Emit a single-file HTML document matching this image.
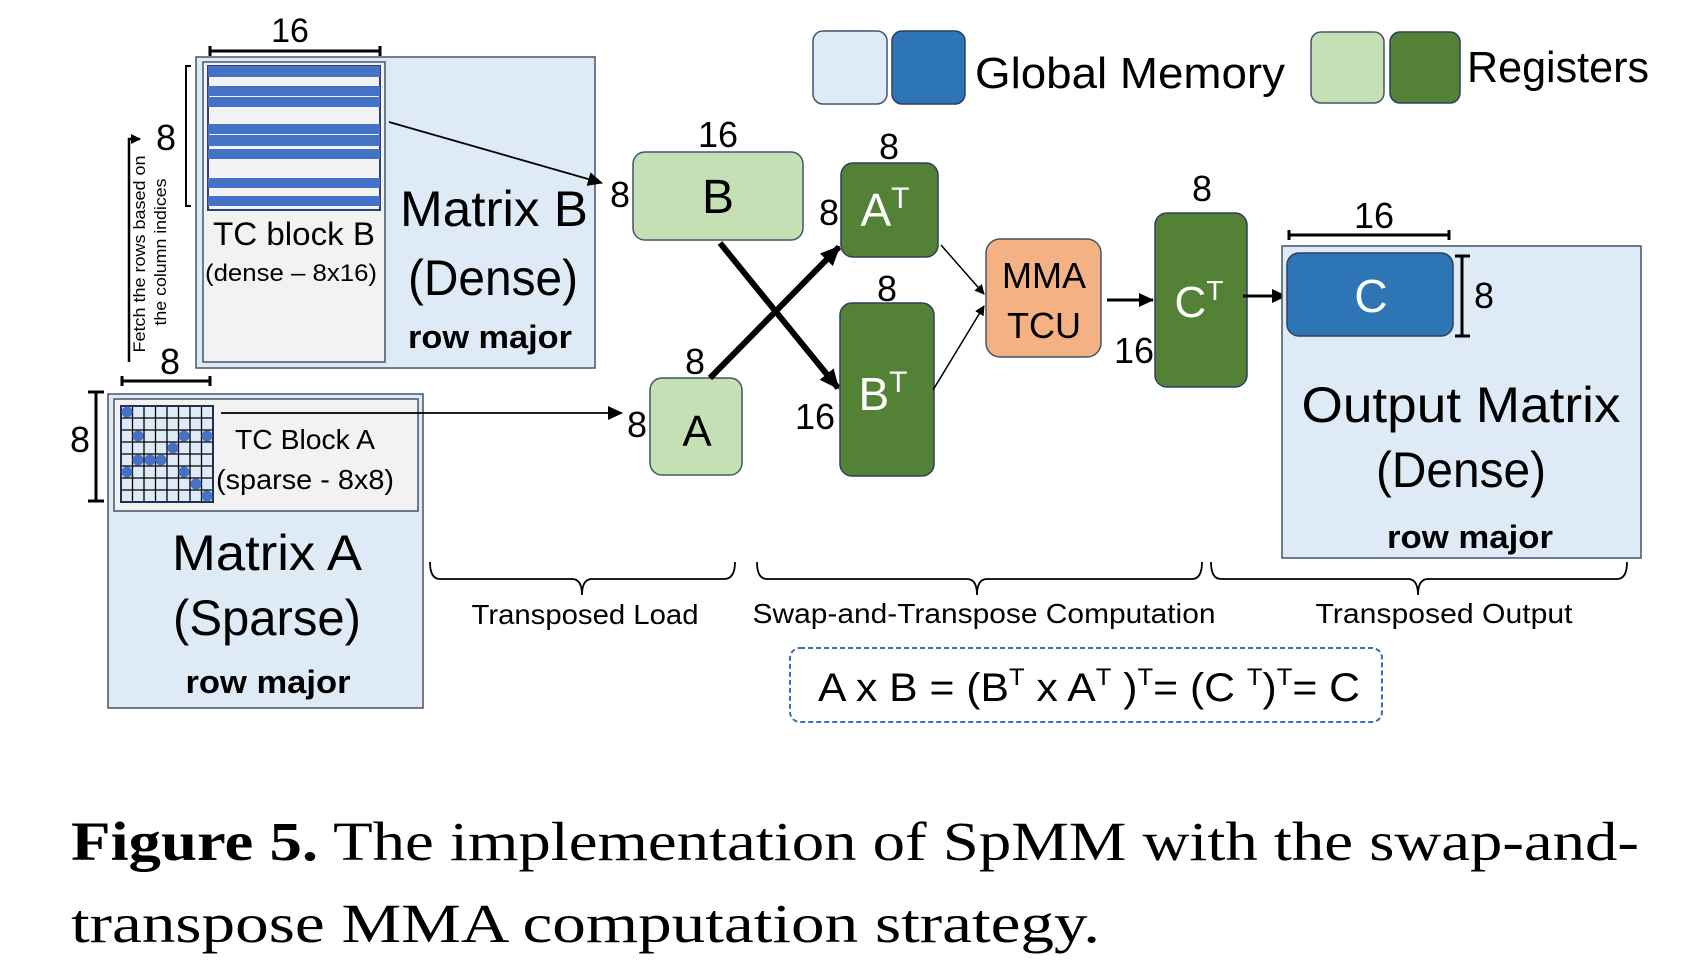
<!DOCTYPE html>
<html><head><meta charset="utf-8"><style>
html,body{margin:0;padding:0;background:#fff;}
svg{display:block;}
text{font-family:"Liberation Sans",sans-serif;fill:#000;}
</style></head><body>
<svg width="1708" height="978" viewBox="0 0 1708 978" xmlns="http://www.w3.org/2000/svg">
<defs>
<marker id="ah" markerWidth="10" markerHeight="10" refX="9" refY="5" orient="auto" markerUnits="userSpaceOnUse"><path d="M0,0 L10,5 L0,10 z" fill="#000"/></marker>
<marker id="ahb" markerWidth="22" markerHeight="22" refX="18" refY="11" orient="auto" markerUnits="userSpaceOnUse"><path d="M0,2 L20,11 L0,20 z" fill="#000"/></marker>
<marker id="ahm" markerWidth="16" markerHeight="16" refX="14" refY="8" orient="auto" markerUnits="userSpaceOnUse"><path d="M0,1 L15,8 L0,15 z" fill="#000"/></marker>
</defs>

<!-- Legend -->
<rect x="813" y="31" width="74" height="73" rx="10" fill="#deebf7" stroke="#44546a" stroke-width="1.5"/>
<rect x="892" y="31" width="73" height="73" rx="10" fill="#2e75b6" stroke="#2f3f5f" stroke-width="1.5"/>
<text x="975" y="88" font-size="44" textLength="310" lengthAdjust="spacingAndGlyphs">Global Memory</text>
<rect x="1311" y="32" width="73" height="71" rx="10" fill="#c5e0b4" stroke="#44546a" stroke-width="1.5"/>
<rect x="1390" y="32" width="70" height="71" rx="10" fill="#538135" stroke="#2f3f5f" stroke-width="1.5"/>
<text x="1467" y="82" font-size="44" textLength="182" lengthAdjust="spacingAndGlyphs">Registers</text>

<!-- Matrix B -->
<rect x="196" y="57" width="399" height="311" fill="#deebf7" stroke="#44546a" stroke-width="1.5"/>
<rect x="203" y="62" width="182" height="300" fill="#f2f2f2" stroke="#44546a" stroke-width="1.5"/>
<rect x="208" y="66" width="172" height="144" fill="#f2f2f2" stroke="#2f3f6f" stroke-width="2"/>
<g fill="#4472c4">
<rect x="208" y="66" width="172" height="11"/>
<rect x="208" y="86" width="172" height="10"/>
<rect x="208" y="97" width="172" height="10"/>
<rect x="208" y="124" width="172" height="10"/>
<rect x="208" y="135" width="172" height="11"/>
<rect x="208" y="149" width="172" height="10"/>
<rect x="208" y="178" width="172" height="10"/>
<rect x="208" y="196" width="172" height="10"/>
</g>
<text x="294" y="245" font-size="32" text-anchor="middle" textLength="162" lengthAdjust="spacingAndGlyphs">TC block B</text>
<text x="291" y="281" font-size="24" text-anchor="middle" textLength="172" lengthAdjust="spacingAndGlyphs">(dense – 8x16)</text>
<text x="494" y="226" font-size="50" text-anchor="middle" textLength="188" lengthAdjust="spacingAndGlyphs">Matrix B</text>
<text x="493" y="295" font-size="50" text-anchor="middle" textLength="170" lengthAdjust="spacingAndGlyphs">(Dense)</text>
<text x="490" y="348" font-size="32" font-weight="bold" text-anchor="middle" textLength="164" lengthAdjust="spacingAndGlyphs">row major</text>
<!-- 16 bracket -->
<path d="M210,46 V56 M210,51 H380 M380,46 V56" stroke="#000" stroke-width="3" fill="none"/>
<text x="290" y="42" font-size="34" text-anchor="middle">16</text>
<!-- 8 bracket -->
<path d="M191,66 H186 V206 H191" stroke="#000" stroke-width="2" fill="none"/>
<text x="166" y="150" font-size="36" text-anchor="middle">8</text>
<!-- fetch arrow -->
<path d="M129,362 V139 H140" stroke="#000" stroke-width="2.5" fill="none" marker-end="url(#ah)"/>
<text transform="translate(145,254) rotate(-90)" font-size="17" text-anchor="middle" textLength="197" lengthAdjust="spacingAndGlyphs">Fetch the rows  based on</text>
<text transform="translate(166,252) rotate(-90)" font-size="17" text-anchor="middle" textLength="147" lengthAdjust="spacingAndGlyphs">the column indices</text>

<!-- Matrix A -->
<rect x="108" y="394" width="315" height="314" fill="#deebf7" stroke="#44546a" stroke-width="1.5"/>
<rect x="114" y="399" width="304" height="112" fill="#f2f2f2" stroke="#44546a" stroke-width="1.5"/>
<rect x="121" y="406" width="92" height="96" fill="#deebf7"/>
<g stroke="#000" stroke-width="1.3">
<path d="M132.5,406V502 M144,406V502 M155.5,406V502 M167,406V502 M178.5,406V502 M190,406V502 M201.5,406V502"/>
<path d="M121,418H213 M121,430H213 M121,442H213 M121,454H213 M121,466H213 M121,478H213 M121,490H213"/>
</g>
<rect x="121" y="406" width="92" height="96" fill="none" stroke="#1f2f4f" stroke-width="2"/>
<g fill="#4472c4">
<circle cx="127" cy="412" r="5.5"/>
<circle cx="138" cy="436" r="5.5"/><circle cx="184" cy="436" r="5.5"/><circle cx="207" cy="436" r="5.5"/>
<circle cx="173" cy="448" r="5.5"/>
<circle cx="138" cy="460" r="5.5"/><circle cx="150" cy="460" r="5.5"/><circle cx="161" cy="460" r="5.5"/>
<circle cx="127" cy="472" r="5.5"/><circle cx="184" cy="472" r="5.5"/>
<circle cx="196" cy="484" r="5.5"/>
<circle cx="207" cy="496" r="5.5"/>
</g>
<text x="305" y="449" font-size="28" text-anchor="middle" textLength="140" lengthAdjust="spacingAndGlyphs">TC Block A</text>
<text x="305" y="489" font-size="28" text-anchor="middle" textLength="178" lengthAdjust="spacingAndGlyphs">(sparse - 8x8)</text>
<text x="267" y="570" font-size="50" text-anchor="middle" textLength="190" lengthAdjust="spacingAndGlyphs">Matrix A</text>
<text x="267" y="635" font-size="50" text-anchor="middle" textLength="188" lengthAdjust="spacingAndGlyphs">(Sparse)</text>
<text x="268" y="693" font-size="32" font-weight="bold" text-anchor="middle" textLength="165" lengthAdjust="spacingAndGlyphs">row major</text>
<path d="M122,376 V386 M122,381 H210 M210,376 V386" stroke="#000" stroke-width="3" fill="none"/>
<text x="170" y="374" font-size="36" text-anchor="middle">8</text>
<path d="M88,392 H104 M96,392 V501 M88,501 H104" stroke="#000" stroke-width="3" fill="none"/>
<text x="80" y="452" font-size="36" text-anchor="middle">8</text>

<!-- arrows to B and A -->
<line x1="389" y1="122" x2="602" y2="183" stroke="#000" stroke-width="1.8" marker-end="url(#ahm)"/>
<line x1="221" y1="413" x2="622" y2="413" stroke="#000" stroke-width="1.8" marker-end="url(#ahm)"/>

<!-- B, A boxes -->
<rect x="633" y="152" width="170" height="88" rx="12" fill="#c5e0b4" stroke="#44546a" stroke-width="1.5"/>
<text x="718" y="213" font-size="48" text-anchor="middle">B</text>
<text x="718" y="147" font-size="36" text-anchor="middle">16</text>
<text x="620" y="207" font-size="36" text-anchor="middle">8</text>
<rect x="650" y="378" width="92" height="97" rx="12" fill="#c5e0b4" stroke="#44546a" stroke-width="1.5"/>
<text x="697" y="446" font-size="44" text-anchor="middle">A</text>
<text x="695" y="374" font-size="36" text-anchor="middle">8</text>
<text x="637" y="437" font-size="36" text-anchor="middle">8</text>

<!-- thick crossing arrows -->
<line x1="720" y1="243" x2="838" y2="388" stroke="#000" stroke-width="6" marker-end="url(#ahb)"/>
<line x1="710" y1="378" x2="839" y2="247" stroke="#000" stroke-width="6" marker-end="url(#ahb)"/>

<!-- AT, BT -->
<rect x="841" y="163" width="97" height="94" rx="12" fill="#538135" stroke="#2f3f5f" stroke-width="1.5"/>
<text x="885" y="226" font-size="46" text-anchor="middle" fill="#fff" style="fill:#fff">A<tspan font-size="30" dy="-18">T</tspan></text>
<text x="889" y="159" font-size="36" text-anchor="middle">8</text>
<text x="829" y="225" font-size="36" text-anchor="middle">8</text>
<rect x="840" y="303" width="94" height="173" rx="12" fill="#538135" stroke="#2f3f5f" stroke-width="1.5"/>
<text x="883" y="410" font-size="46" text-anchor="middle" style="fill:#fff">B<tspan font-size="30" dy="-18">T</tspan></text>
<text x="887" y="301" font-size="36" text-anchor="middle">8</text>
<text x="815" y="429" font-size="36" text-anchor="middle">16</text>

<!-- lines to MMA -->
<line x1="941" y1="245" x2="984" y2="294" stroke="#000" stroke-width="1.5" marker-end="url(#ah)"/>
<line x1="933" y1="390" x2="984" y2="306" stroke="#000" stroke-width="1.5" marker-end="url(#ah)"/>

<!-- MMA -->
<rect x="986" y="239" width="115" height="118" rx="14" fill="#f4b183" stroke="#44546a" stroke-width="1.5"/>
<text x="1044" y="288" font-size="36" text-anchor="middle">MMA</text>
<text x="1044" y="338" font-size="36" text-anchor="middle">TCU</text>
<line x1="1107" y1="300" x2="1153" y2="300" stroke="#000" stroke-width="3" marker-end="url(#ahm)"/>

<!-- CT -->
<rect x="1155" y="213" width="92" height="174" rx="12" fill="#538135" stroke="#2f3f5f" stroke-width="1.5"/>
<text x="1199" y="317" font-size="44" text-anchor="middle" style="fill:#fff">C<tspan font-size="28" dy="-17">T</tspan></text>
<text x="1202" y="201" font-size="36" text-anchor="middle">8</text>
<text x="1134" y="363" font-size="36" text-anchor="middle">16</text>
<line x1="1243" y1="296" x2="1286" y2="296" stroke="#000" stroke-width="3" marker-end="url(#ahm)"/>

<!-- Output -->
<rect x="1282" y="246" width="359" height="312" fill="#deebf7" stroke="#44546a" stroke-width="1.5"/>
<rect x="1287" y="253" width="166" height="83" rx="12" fill="#2e75b6" stroke="#2f3f5f" stroke-width="1.5"/>
<text x="1371" y="312" font-size="46" text-anchor="middle" style="fill:#fff">C</text>
<path d="M1455,256 H1470 M1462,256 V336 M1455,336 H1470" stroke="#000" stroke-width="3" fill="none"/>
<text x="1484" y="308" font-size="36" text-anchor="middle">8</text>
<path d="M1289,230 V240 M1289,235 H1449 M1449,230 V240" stroke="#000" stroke-width="3" fill="none"/>
<text x="1374" y="228" font-size="36" text-anchor="middle">16</text>
<text x="1461" y="422" font-size="50" text-anchor="middle" textLength="319" lengthAdjust="spacingAndGlyphs">Output Matrix</text>
<text x="1461" y="487" font-size="50" text-anchor="middle" textLength="170" lengthAdjust="spacingAndGlyphs">(Dense)</text>
<text x="1470" y="548" font-size="32" font-weight="bold" text-anchor="middle" textLength="166" lengthAdjust="spacingAndGlyphs">row major</text>

<!-- braces -->
<g stroke="#000" stroke-width="1.8" fill="none">
<path d="M430,562 Q430,579 440,579 H572 Q582,579 582,595 Q582,579 592,579 H724 Q735,579 735,562"/>
<path d="M757,562 Q757,579 767,579 H967 Q977,579 977,595 Q977,579 987,579 H1192 Q1202,579 1202,562"/>
<path d="M1211,562 Q1211,579 1221,579 H1408 Q1418,579 1418,595 Q1418,579 1428,579 H1617 Q1627,579 1627,562"/>
</g>
<text x="585" y="624" font-size="28" text-anchor="middle" textLength="227" lengthAdjust="spacingAndGlyphs">Transposed Load</text>
<text x="984" y="623" font-size="28" text-anchor="middle" textLength="463" lengthAdjust="spacingAndGlyphs">Swap-and-Transpose Computation</text>
<text x="1444" y="623" font-size="28" text-anchor="middle" textLength="257" lengthAdjust="spacingAndGlyphs">Transposed Output</text>

<!-- equation -->
<rect x="790" y="648" width="592" height="74" rx="10" fill="none" stroke="#2e75b6" stroke-width="2" stroke-dasharray="5,3"/>
<text x="818" y="701" font-size="40" textLength="542" lengthAdjust="spacingAndGlyphs">A x B = (B<tspan font-size="24" dy="-16">T</tspan><tspan dy="16"> x A</tspan><tspan font-size="24" dy="-16">T</tspan><tspan dy="16"> )</tspan><tspan font-size="24" dy="-16">T</tspan><tspan dy="16">= (C </tspan><tspan font-size="24" dy="-16">T</tspan><tspan dy="16">)</tspan><tspan font-size="24" dy="-16">T</tspan><tspan dy="16">= C</tspan></text>

<!-- caption -->
<text x="71" y="860" font-family="Liberation Serif, serif" font-size="55" textLength="1568" lengthAdjust="spacingAndGlyphs" style="font-family:'Liberation Serif',serif"><tspan font-weight="bold">Figure 5.</tspan> The implementation of SpMM with the swap-and-</text>
<text x="71" y="942" font-size="55" textLength="1029" lengthAdjust="spacingAndGlyphs" style="font-family:'Liberation Serif',serif">transpose MMA computation strategy.</text>
</svg>
</body></html>
